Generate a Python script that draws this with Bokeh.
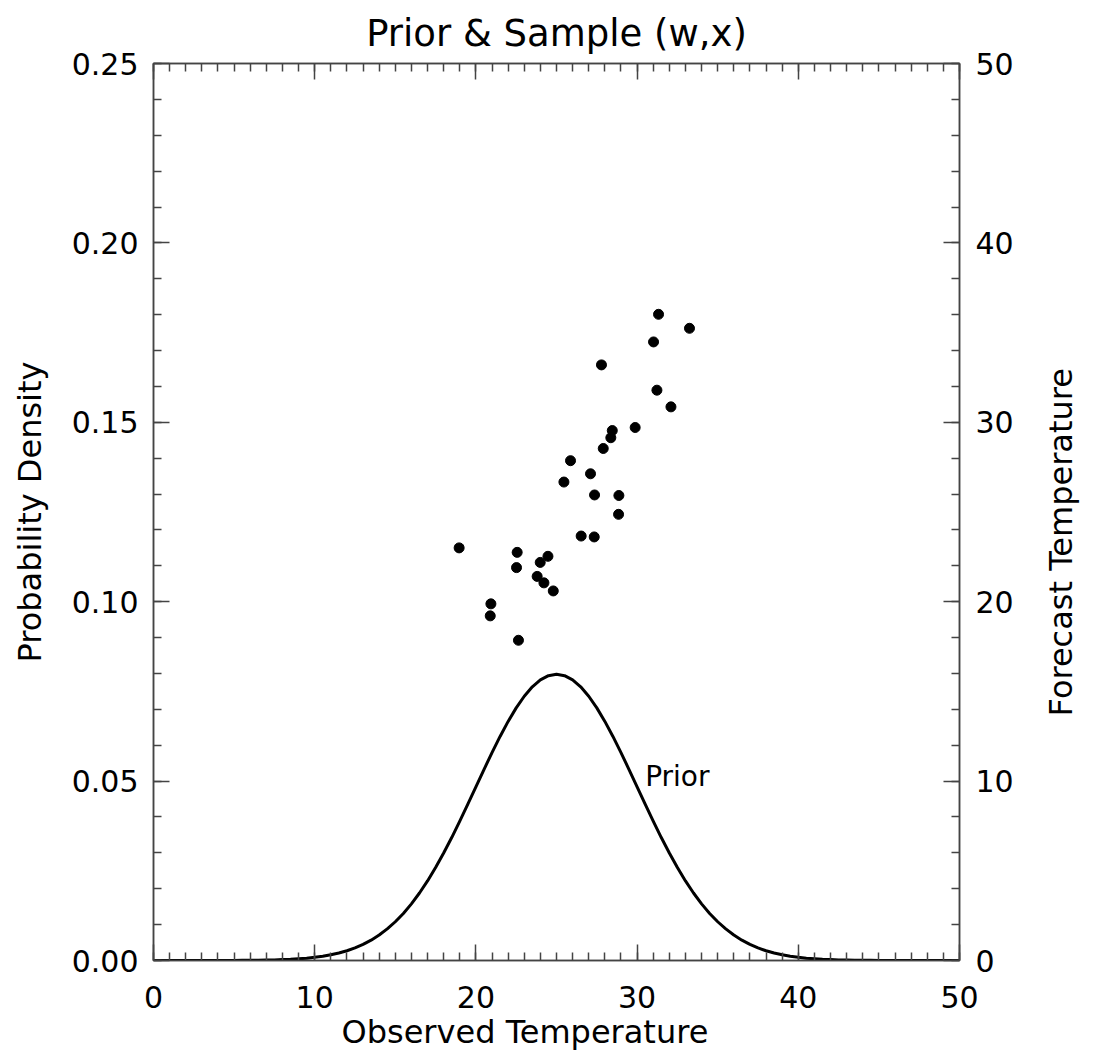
import math
from bokeh.plotting import figure
from bokeh.models import (Range1d, LinearAxis, SingleIntervalTicker, CustomJSTickFormatter,
                          NumeralTickFormatter, ColumnDataSource, Label, Title)
from bokeh.embed import file_html
from bokeh.resources import INLINE

# ---- data ----
# prior density curve, read every 0.5 degree from 0 to 50
prior_x = [i * 0.5 for i in range(0, 101)]
prior_y = [0.0, 0.0, 0.0, 0.0, 0.0, 0.0, 0.0, 0.00001, 0.00001, 0.00002,
           0.00003, 0.00004, 0.00006, 0.00008, 0.00012, 0.00017, 0.00025, 0.00034, 0.00048, 0.00065,
           0.00089, 0.00119, 0.00158, 0.00208, 0.00271, 0.00351, 0.00448, 0.00567, 0.00709, 0.00880,
           0.01080, 0.01312, 0.01579, 0.01881, 0.02218, 0.02590, 0.02995, 0.03427, 0.03884, 0.04357,
           0.04839, 0.05322, 0.05794, 0.06245, 0.06664, 0.07041, 0.07365, 0.07628, 0.07821, 0.07939,
           0.07979,
           0.07939, 0.07821, 0.07628, 0.07365, 0.07041, 0.06664, 0.06245, 0.05794, 0.05322, 0.04839,
           0.04357, 0.03884, 0.03427, 0.02995, 0.02590, 0.02218, 0.01881, 0.01579, 0.01312, 0.01080,
           0.00880, 0.00709, 0.00567, 0.00448, 0.00351, 0.00271, 0.00208, 0.00158, 0.00119, 0.00089,
           0.00065, 0.00048, 0.00034, 0.00025, 0.00017, 0.00012, 0.00008, 0.00006, 0.00004, 0.00003,
           0.00002, 0.00001, 0.00001, 0.0, 0.0, 0.0, 0.0, 0.0, 0.0, 0.0]

sample_obs = [31.33, 33.25, 31.02, 27.79, 31.23, 32.10, 29.88, 28.46, 28.37, 27.90,
              25.87, 27.11, 25.46, 27.36, 28.87, 28.85, 26.53, 27.34, 18.96, 22.56,
              24.47, 23.99, 22.52, 23.80, 24.22, 24.80, 20.93, 20.89, 22.64]
sample_fc = [36.02, 35.24, 34.48, 33.20, 31.79, 30.86, 29.71, 29.54, 29.14, 28.54,
             27.86, 27.13, 26.67, 25.95, 25.92, 24.87, 23.66, 23.61, 23.00, 22.75,
             22.53, 22.19, 21.90, 21.41, 21.05, 20.60, 19.88, 19.21, 17.85]

title_text = "Prior & Sample (w,x)"
x_label = "Observed Temperature"
y_label = "Probability Density"
y2_label = "Forecast Temperature"
curve_label = "Prior"

FONT = "DejaVu Sans"
AXC = "#444444"
NBSP = "\u00a0"

p = figure(width=1101, height=1061, output_backend="svg", toolbar_location=None,
           x_range=Range1d(0, 50), y_range=Range1d(0, 0.25))
p.extra_y_ranges = {"fc": Range1d(0, 50)}
p.min_border_left = 153
p.min_border_right = 141
p.min_border_top = 62
p.min_border_bottom = 101
p.background_fill_color = "white"
p.border_fill_color = "white"
p.outline_line_color = AXC
p.outline_line_width = 1.5
p.xgrid.visible = False
p.ygrid.visible = False


def style_axis(ax):
    ax.axis_line_color = AXC
    ax.axis_line_width = 1.5
    ax.major_tick_line_color = AXC
    ax.minor_tick_line_color = AXC
    ax.major_tick_line_width = 1.5
    ax.minor_tick_line_width = 1.5
    ax.major_tick_in = 16
    ax.major_tick_out = 0
    ax.minor_tick_in = 8
    ax.minor_tick_out = 0
    ax.major_label_text_font = FONT
    ax.major_label_text_font_size = "30px"
    ax.major_label_text_color = "black"
    ax.axis_label_text_font = FONT
    ax.axis_label_text_font_size = "32px"
    ax.axis_label_text_font_style = "normal"
    ax.axis_label_text_color = "black"


# main title
p.title.text = title_text
p.title.text_font = FONT
p.title.text_font_size = "37px"
p.title.text_font_style = "normal"
p.title.text_color = "black"
p.title.align = "center"
p.title.standoff = 18

xax = p.xaxis[0]
xax.ticker = SingleIntervalTicker(interval=10, num_minor_ticks=10)
style_axis(xax)
xax.major_label_standoff = 25

yax = p.yaxis[0]
yax.ticker = SingleIntervalTicker(interval=0.05, num_minor_ticks=5)
yax.formatter = NumeralTickFormatter(format="0.00")
yax.axis_label = y_label
style_axis(yax)
yax.major_label_standoff = 15
yax.axis_label_standoff = 20

top = LinearAxis(ticker=SingleIntervalTicker(interval=10, num_minor_ticks=10),
                 formatter=CustomJSTickFormatter(code="return '';"))
style_axis(top)
top.major_label_standoff = 0
p.add_layout(top, "above")

# right axis: label reads bottom-to-top, starting from the bottom of the axis;
# leading no-break spaces lift it to where the original has it
right = LinearAxis(y_range_name="fc", ticker=SingleIntervalTicker(interval=10, num_minor_ticks=5),
                   axis_label=NBSP * 24 + y2_label)
style_axis(right)
right.major_label_standoff = 16
right.axis_label_standoff = 44
right.axis_label_orientation = math.pi / 2
if "axis_label_align" in right.properties():
    right.axis_label_align = "start"
p.add_layout(right, "right")

# x axis title, shifted left of centre as in the original
p.add_layout(Title(text=x_label, align="left", offset=188, standoff=0,
                   text_font=FONT, text_font_size="32px", text_font_style="normal",
                   text_color="black"), "below")

p.line(prior_x, prior_y, line_color="black", line_width=3, line_join="round")
src = ColumnDataSource(dict(x=sample_obs, y=sample_fc))
p.scatter("x", "y", source=src, y_range_name="fc", size=10,
          fill_color="black", line_color="black")

p.add_layout(Label(x=30.5, y=0.0512, text=curve_label, text_font=FONT, text_font_size="28px",
                   text_color="black", text_align="left", text_baseline="middle"))

open("out.html", "w").write(file_html(p, INLINE))
